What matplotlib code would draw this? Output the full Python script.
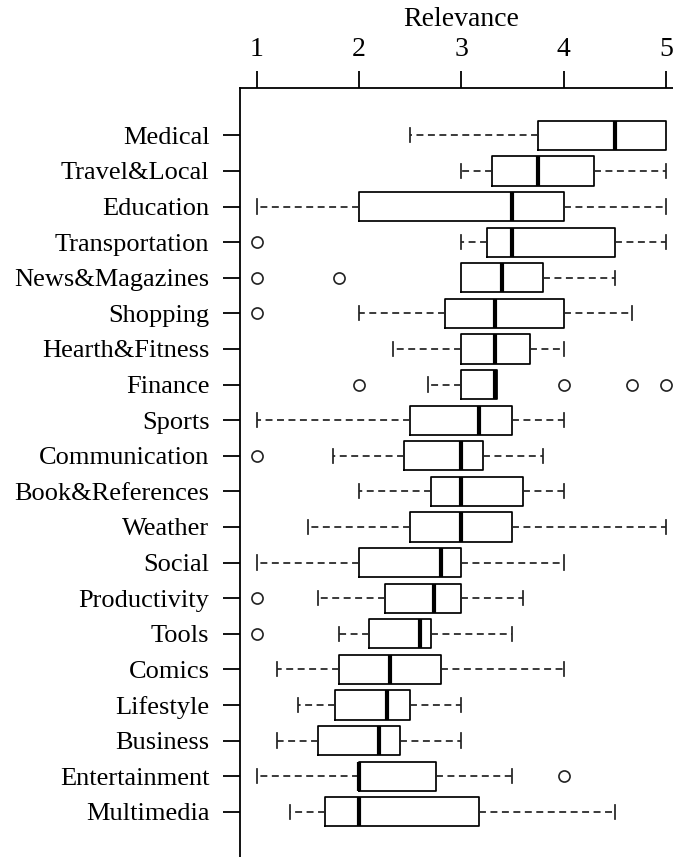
import matplotlib
matplotlib.use('Agg')
import matplotlib.pyplot as plt
import matplotlib.transforms as mtransforms

plt.rcParams.update({
    'font.family': ['Liberation Serif', 'DejaVu Serif'],
    'font.size': 19,
})

# top-to-bottom order as in the figure
categories = ["Medical", "Travel&Local", "Education", "Transportation", "News&Magazines",
              "Shopping", "Hearth&Fitness", "Finance", "Sports", "Communication",
              "Book&References", "Weather", "Social", "Productivity", "Tools",
              "Comics", "Lifestyle", "Business", "Entertainment", "Multimedia"]
whis_lo = [2.5, 3.0, 1.0, 3.0, 3.0, 2.0, 2.33, 2.67, 1.0, 1.75,
           2.0, 1.5, 1.0, 1.6, 1.8, 1.2, 1.4, 1.2, 1.0, 1.33]
q1 = [3.75, 3.3, 2.0, 3.25, 3.0, 2.84, 3.0, 3.0, 2.5, 2.44,
      2.7, 2.5, 2.0, 2.25, 2.1, 1.8, 1.77, 1.6, 2.0, 1.67]
med = [4.5, 3.75, 3.5, 3.5, 3.4, 3.33, 3.33, 3.33, 3.17, 3.0,
       3.0, 3.0, 2.8, 2.73, 2.6, 2.3, 2.27, 2.2, 2.0, 2.0]
q3 = [5.0, 4.3, 4.0, 4.5, 3.8, 4.0, 3.67, 3.35, 3.5, 3.21,
      3.6, 3.5, 3.0, 3.0, 2.7, 2.8, 2.5, 2.4, 2.75, 3.17]
whis_hi = [5.0, 5.0, 5.0, 5.0, 4.5, 4.67, 4.0, 3.35, 4.0, 3.8,
           4.0, 5.0, 4.0, 3.6, 3.5, 4.0, 3.0, 3.0, 3.5, 4.5]
outliers = [[], [], [], [1.0], [1.0, 1.8], [1.0], [], [2.0, 4.0, 4.67, 5.0], [], [1.0],
            [], [], [], [1.0], [1.0], [], [], [], [4.0], []]
x_ticks = [1, 2, 3, 4, 5]

n = len(categories)
positions = [n - i for i in range(n)]

stats = []
for i in range(n):
    stats.append({'label': categories[i], 'whislo': whis_lo[i], 'q1': q1[i], 'med': med[i],
                  'q3': q3[i], 'whishi': whis_hi[i], 'fliers': outliers[i]})

fig = plt.figure(figsize=(6.73, 8.57), dpi=100)
W, H = 673, 857
# axes placed in pixels: left spine at x=240, top spine at y=88
ax = fig.add_axes([240 / W, 0, 442.6 / W, 1 - 88 / H])

ax.bxp(stats, positions=positions, orientation='horizontal', widths=0.82,
       capwidths=0.4, showfliers=True, patch_artist=False,
       boxprops=dict(color='black', lw=1.25),
       whiskerprops=dict(color='#222222', lw=1.25, linestyle=(0, (4.0, 2.6))),
       capprops=dict(color='#222222', lw=1.25),
       medianprops=dict(color='black', lw=3.0, solid_capstyle='butt'),
       flierprops=dict(marker='o', markersize=8, markerfacecolor='none',
                       markeredgecolor='#222222', markeredgewidth=1.2))

ax.set_xlim(0.837, 5.163)
ax.set_ylim(-0.27, 21.33)

ax.xaxis.tick_top()
ax.set_xticks(x_ticks)
ax.set_xticklabels([str(t) for t in x_ticks])
ax.set_yticks(positions)
ax.set_yticklabels(categories)
ax.tick_params(axis='x', length=12, width=1.3, pad=7, labelsize=20)
ax.tick_params(axis='y', length=12, width=1.3, pad=10, labelsize=19)

for side in ['right', 'bottom']:
    ax.spines[side].set_visible(False)
for side in ['left', 'top']:
    ax.spines[side].set_linewidth(1.3)

trans = mtransforms.blended_transform_factory(ax.transData, fig.transFigure)
ax.text(3, 1 - 20 / H, 'Relevance', transform=trans, ha='center', va='center', fontsize=20)

fig.savefig('out.png', dpi=100)
